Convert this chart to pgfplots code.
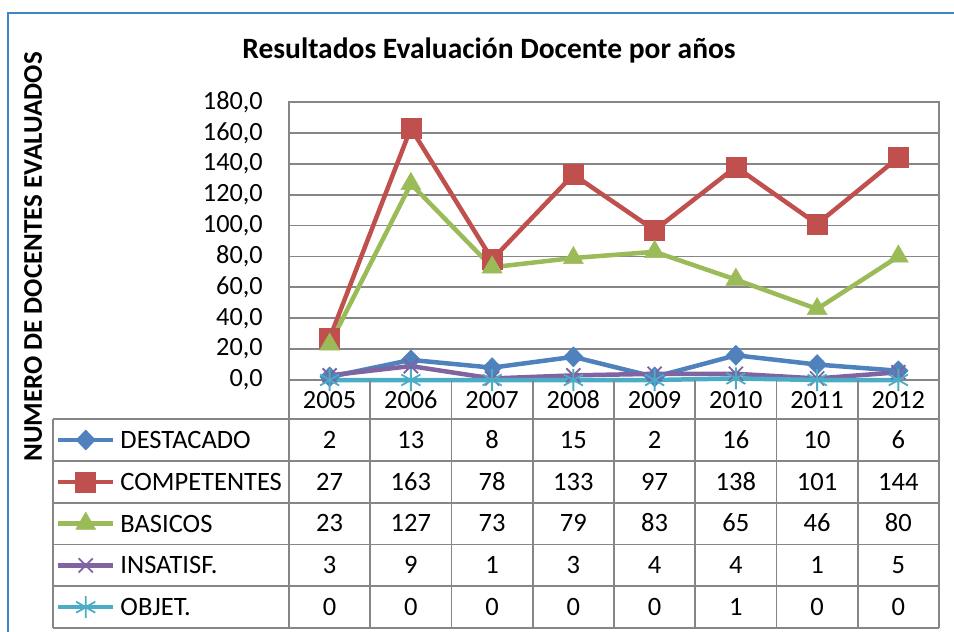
\documentclass[border=0pt]{standalone}
\usepackage{pgfplots}
\pgfplotsset{compat=1.18}
\usepackage{fontspec}
\setmainfont{Carlito}
\definecolor{cBlue}{HTML}{4F81BD}
\definecolor{cRed}{HTML}{C0504D}
\definecolor{cGreen}{HTML}{9BBB59}
\definecolor{cPurple}{HTML}{8064A2}
\definecolor{cAqua}{HTML}{4BACC6}
\definecolor{cGrid}{HTML}{868686}
\definecolor{cFrame}{HTML}{3D85C6}
\begin{document}
\begin{tikzpicture}[x=1pt,y=1pt]
\useasboundingbox (0,0) rectangle (954,-632);
\draw[cFrame, line width=2pt] (8,-640) -- (8,-13) -- (960,-13);
\node[font={\fontsize{29.5}{34}\selectfont\bfseries}] at (489,-50) {Resultados Evaluación Docente por años};
\node[font={\fontsize{27}{32}\selectfont\bfseries}, rotate=90] at (33,-257) {NUMERO DE DOCENTES EVALUADOS};
\begin{axis}[
  at={(289pt,-380pt)}, anchor=south west,
  width=650pt, height=278pt, scale only axis,
  xmin=-0.5, xmax=7.5, ymin=0, ymax=180,
  xtick={0,...,7}, xticklabels={2005,2006,2007,2008,2009,2010,2011,2012},
  ytick={0,20,...,180},
  major tick length=0pt,
  ymajorgrids, grid style={cGrid, line width=1.8pt},
  axis line style={cGrid, line width=1.8pt},
  clip=false,
  tick label style={font=\fontsize{26.3}{30}\selectfont},
  /pgf/number format/assume math mode=true,
  yticklabel style={/pgf/number format/.cd, fixed, fixed zerofill, precision=1, use comma, /tikz/.cd, anchor=east, inner sep=0pt, xshift=-26pt},
  xticklabel style={anchor=base, yshift=-28.4pt},
  legend style={at={(-0.3585,-0.1403)}, anchor=north west, draw=none, fill=none,
    inner sep=0pt, outer sep=0pt, row sep=0pt, column sep=5pt,
    font=\fontsize{26.5}{30}\selectfont,
    nodes={text height=29.4pt, text depth=12.4pt, inner sep=0pt, anchor=base west}},
  legend cell align=left,
  legend image code/.code={\draw[mark repeat=2, mark phase=2, yshift=8.4pt] plot coordinates {(0pt,0pt) (27.5pt,0pt) (55pt,0pt)};},
  every axis plot/.append style={line width=4.5pt},
]
\addplot[cBlue, mark=diamond*, mark size=10pt, mark options={solid, line width=0.5pt, xscale=1.3}] coordinates {(0,2) (1,13) (2,8) (3,15) (4,2) (5,16) (6,10) (7,6)};
\addlegendentry{DESTACADO}
\addplot[cRed, mark=square*, mark size=10pt, mark options={solid, line width=0.5pt}] coordinates {(0,27) (1,163) (2,78) (3,133) (4,97) (5,138) (6,101) (7,144)};
\addlegendentry{COMPETENTES}
\addplot[cGreen, mark=triangle*, mark size=11.5pt, mark options={solid, line width=0.5pt}] coordinates {(0,23) (1,127) (2,73) (3,79) (4,83) (5,65) (6,46) (7,80)};
\addlegendentry{BASICOS}
\addplot[cPurple, mark=x, mark size=10pt, mark options={solid, line width=1.8pt}] coordinates {(0,3) (1,9) (2,1) (3,3) (4,4) (5,4) (6,1) (7,5)};
\addlegendentry{INSATISF.}
\addplot[cAqua, mark=asterisk, mark size=11pt, mark options={solid, line width=1.8pt}] coordinates {(0,0) (1,0) (2,0) (3,0) (4,0) (5,1) (6,0) (7,0)};
\addlegendentry{OBJET.}
\end{axis}
% data table grid
\begin{scope}[cGrid, line width=1.8pt]
\foreach \j in {0,...,5} { \draw (53,{-419-41.8*\j}) -- (939,{-419-41.8*\j}); }
\draw (53,-419) -- (53,-628);
\foreach \k in {0,...,8} { \draw ({289+81.25*\k},-380) -- ({289+81.25*\k},-628); }
\end{scope}
\begin{scope}[font=\fontsize{26.5}{30}\selectfont]
\foreach \row [count=\r from 0] in {{2,13,8,15,2,16,10,6},{27,163,78,133,97,138,101,144},{23,127,73,79,83,65,46,80},{3,9,1,3,4,4,1,5},{0,0,0,0,0,1,0,0}} {
  \foreach \v [count=\c from 0] in \row {
    \node[anchor=base] at ({289+81.25*(\c+0.5)},{-419-41.8*(\r+0.5)-8.4}) {\v};
  }
}
\end{scope}
\end{tikzpicture}
\end{document}
